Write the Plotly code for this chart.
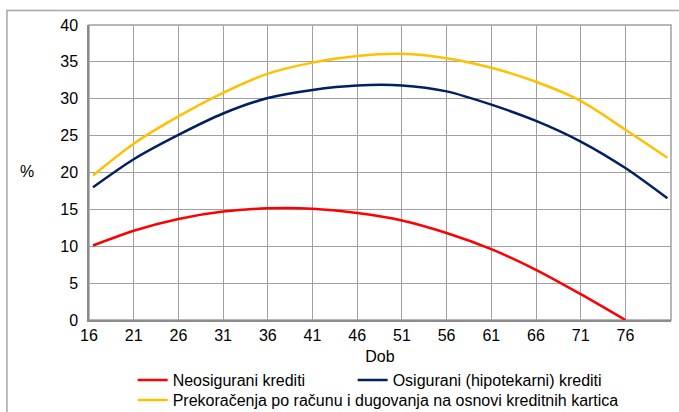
import plotly.graph_objects as go

ages = [16.45, 21, 26, 31, 36, 41, 46, 51, 56, 61, 66, 71, 76, 80.7]
neosigurani = [10.1, 12.1, 13.7, 14.7, 15.15, 15.1, 14.5, 13.5, 11.8, 9.6, 6.8, 3.5, 0.0, None]
osigurani = [18.0, 21.8, 25.1, 28.0, 30.1, 31.2, 31.8, 31.8, 31.0, 29.2, 27.0, 24.2, 20.6, 16.5]
prekoracenja = [19.6, 23.9, 27.6, 30.8, 33.4, 34.9, 35.8, 36.1, 35.5, 34.2, 32.3, 29.7, 25.8, 22.0]

x_ticks = [16, 21, 26, 31, 36, 41, 46, 51, 56, 61, 66, 71, 76]
y_ticks = [0, 5, 10, 15, 20, 25, 30, 35, 40]

names = ["Neosigurani krediti", "Osigurani (hipotekarni) krediti",
         "Prekoračenja po računu i dugovanja na osnovi kreditnih kartica"]
colors = ["#ff0000", "#002060", "#ffc000"]
legend_ids = ["legend", "legend2", "legend3"]

fig = go.Figure()
for name, vals, col, lg in zip(names, [neosigurani, osigurani, prekoracenja], colors, legend_ids):
    fig.add_trace(go.Scatter(x=ages, y=vals, name=name, mode="lines", legend=lg,
                             line=dict(color=col, width=2.5, shape="spline", smoothing=0.8),
                             connectgaps=False))

font = dict(family="Liberation Sans, Arial, sans-serif", size=16, color="#000000")

def leg(x, y):
    return dict(orientation="v", x=x, xanchor="left", y=y, yanchor="middle",
                font=font, bgcolor="rgba(0,0,0,0)", borderwidth=0)

fig.update_layout(
    width=679, height=412,
    margin=dict(l=89, r=8, t=25, b=92, autoexpand=False),
    paper_bgcolor="white", plot_bgcolor="white",
    font=font,
    showlegend=True,
    legend=leg(0.075, -0.2036),
    legend2=leg(0.453, -0.2036),
    legend3=leg(0.075, -0.2715),
    xaxis=dict(range=[16, 81.1], tickvals=x_ticks, ticktext=[str(v) for v in x_ticks],
               showgrid=True, gridcolor="#a0a0a0", gridwidth=1,
               showline=True, linecolor="#8c8c8c", linewidth=1.5, mirror=False,
               zeroline=False, ticks="", tickfont=font,
               title=dict(text="Dob", font=font, standoff=8)),
    yaxis=dict(range=[0, 40], tickvals=y_ticks, showgrid=True, gridcolor="#a0a0a0", gridwidth=1,
               showline=True, linecolor="#8c8c8c", linewidth=1.5,
               zeroline=False, ticks="", tickfont=font, ticklabelstandoff=6),
)

# plot area border (top and right)
fig.add_shape(type="rect", xref="paper", yref="paper", x0=0, y0=0, x1=1, y1=1,
              line=dict(color="#a0a0a0", width=1.5), layer="below")
# outer chart border
fig.add_shape(type="rect", xref="paper", yref="paper", x0=-0.141, y0=-0.5, x1=1.2, y1=1.0495,
              line=dict(color="#a6a6a6", width=1.5))

fig.add_annotation(text="%", xref="paper", yref="paper", x=-0.1065, y=0.502,
                   showarrow=False, font=font, xanchor="center", yanchor="middle")

fig.write_html("out.html", config={"displayModeBar": False},
               post_script="document.body.style.margin='0';")
